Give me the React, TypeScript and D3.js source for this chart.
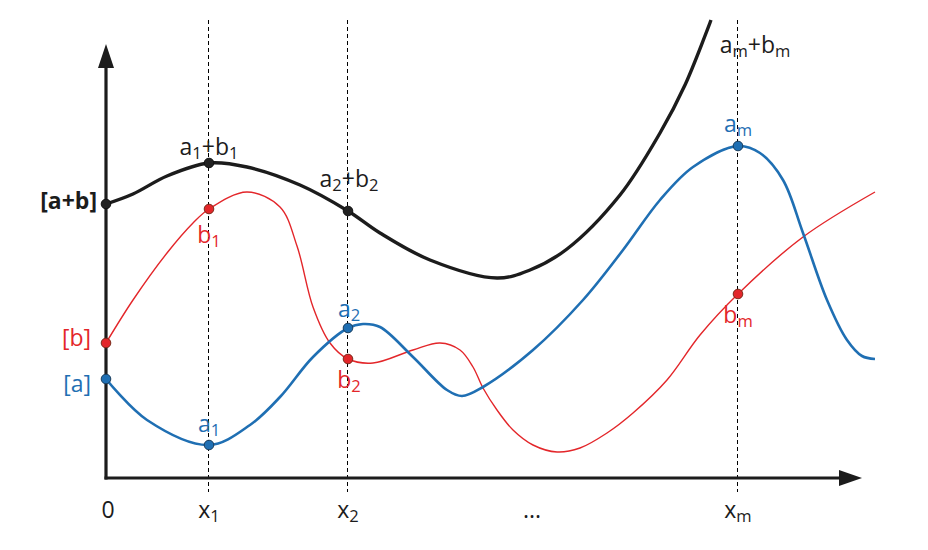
import React from "react";
import * as d3 from "d3";

// data units: x = horizontal distance from origin, y = height above x-axis
const sumSeries: [number, number][] = [
  [0, 274], [27, 284], [61, 302], [103, 315], [141, 311], [194, 293], [242, 267],
  [274, 245], [324, 218], [391, 200], [424, 208], [461, 229], [514, 283],
  [554, 345], [579, 393], [605, 458],
];
const bSeries: [number, number][] = [
  [0, 135], [27, 178], [61, 225], [87, 255], [103, 269], [141, 286], [174, 271],
  [191, 232], [207, 171], [224, 135], [242, 119], [267, 115], [307, 128],
  [334, 135], [354, 128], [367, 111], [377, 90], [391, 68], [407, 48], [427, 33],
  [451, 26], [474, 30], [501, 45], [527, 65], [561, 98], [594, 143], [632, 184],
  [697, 241], [769, 286],
];
const aSeries: [number, number][] = [
  [0, 99], [41, 58], [103, 33], [144, 53], [174, 81], [207, 121], [242, 150],
  [257, 154], [274, 151], [307, 121], [341, 88], [356, 82], [377, 91], [427, 128],
  [477, 178], [517, 228], [554, 278], [587, 311], [632, 332], [654, 325],
  [677, 298], [697, 245], [721, 178], [741, 138], [756, 122], [769, 119],
];

const gridX = [103, 242, 632];
const xTickLabels = ["0", "x_1", "x_2", "...", "x_m"];
const xTickPos = [2, 103, 242, 426, 632];

const sumMarks = [[0, 274], [103, 315], [242, 267]];
const bMarks = [[0, 135], [103, 269], [242, 119], [632, 184]];
const aMarks = [[0, 99], [103, 33], [242, 150], [632, 332]];

const BLUE = "#1f6fb3";
const RED = "#e3262a";
const BLACK = "#1c1c1c";

const W = 928, H = 550;
const x = d3.scaleLinear().domain([0, 770]).range([106, 876]);
const y = d3.scaleLinear().domain([0, 460]).range([478, 18]);

const line = d3
  .line<[number, number]>()
  .x((d) => x(d[0]))
  .y((d) => y(d[1]))
  .curve(d3.curveCatmullRom.alpha(0.5));

function Label({ text, px, py, color, anchor = "middle", size = 23, bold = false }: any) {
  const parts: { t: string; sub: boolean }[] = [];
  let i = 0;
  while (i < text.length) {
    if (text[i] === "_") {
      parts.push({ t: text[i + 1], sub: true });
      i += 2;
    } else {
      let j = i;
      while (j < text.length && text[j] !== "_") j++;
      parts.push({ t: text.slice(i, j), sub: false });
      i = j;
    }
  }
  let shifted = false;
  return (
    <text
      x={px}
      y={py}
      fill={color}
      textAnchor={anchor}
      fontFamily="'Open Sans', sans-serif"
      fontSize={size}
      fontWeight={bold ? 700 : 400}
    >
      {parts.map((p, k) => {
        let dy = 0;
        if (p.sub && !shifted) { dy = 4; shifted = true; }
        else if (!p.sub && shifted) { dy = -4; shifted = false; }
        return (
          <tspan key={k} dy={dy} fontSize={p.sub ? size * 0.72 : size}>
            {p.t}
          </tspan>
        );
      })}
    </text>
  );
}

export default function App() {
  const axisTop = 434;
  const axisRight = 756;
  return (
    <svg width={W} height={H} style={{ position: "absolute", left: 0, top: 0, background: "#fff" }}>
      {gridX.map((g, i) => (
        <line key={i} x1={x(g) - 0.5} x2={x(g) - 0.5} y1={y(458)} y2={y(-14)} stroke="#000" strokeWidth={1} strokeDasharray="4,3" />
      ))}
      <line x1={x(0)} x2={x(0)} y1={y(-1.5)} y2={y(axisTop - 18)} stroke={BLACK} strokeWidth={3.2} />
      <polygon
        points={`${x(0)},${y(axisTop)} ${x(-8)},${y(axisTop - 24)} ${x(8)},${y(axisTop - 24)}`}
        fill={BLACK}
      />
      <line x1={x(-1.5)} x2={x(axisRight - 18)} y1={y(0)} y2={y(0)} stroke={BLACK} strokeWidth={3.2} />
      <polygon
        points={`${x(axisRight)},${y(0)} ${x(axisRight - 23)},${y(8)} ${x(axisRight - 23)},${y(-8)}`}
        fill={BLACK}
      />
      <path d={line(bSeries) || ""} fill="none" stroke={RED} strokeWidth={1.4} />
      <path d={line(aSeries) || ""} fill="none" stroke={BLUE} strokeWidth={2.6} />
      <path d={line(sumSeries) || ""} fill="none" stroke={BLACK} strokeWidth={3.4} />
      {sumMarks.map((m, i) => (
        <circle key={"s" + i} cx={x(m[0])} cy={y(m[1])} r={4.8} fill="#222" stroke="#111" strokeWidth={1} />
      ))}
      {bMarks.map((m, i) => (
        <circle key={"b" + i} cx={x(m[0])} cy={y(m[1])} r={4.8} fill={RED} stroke="#7a2a1a" strokeWidth={1} />
      ))}
      {aMarks.map((m, i) => (
        <circle key={"a" + i} cx={x(m[0])} cy={y(m[1])} r={4.8} fill={BLUE} stroke="#1a3d5c" strokeWidth={1} />
      ))}
      <Label text="[a+b]" px={97} py={209} color={BLACK} anchor="end" bold />
      <Label text="[b]" px={91} py={346} color={RED} anchor="end" />
      <Label text="[a]" px={91} py={392} color={BLUE} anchor="end" />
      <Label text="a_1+b_1" px={209} py={155} color={BLACK} />
      <Label text="b_1" px={209} py={243} color={RED} />
      <Label text="a_1" px={209} py={432} color={BLUE} />
      <Label text="a_2+b_2" px={349} py={187} color={BLACK} />
      <Label text="a_2" px={349} py={317} color={BLUE} />
      <Label text="b_2" px={349} py={388} color={RED} />
      <Label text="a_m+b_m" px={755} py={53} color={BLACK} />
      <Label text="a_m" px={738} py={132} color={BLUE} />
      <Label text="b_m" px={738} py={323} color={RED} />
      {xTickLabels.map((t, i) => (
        <Label key={"x" + i} text={t} px={x(xTickPos[i])} py={518} color={BLACK} />
      ))}
    </svg>
  );
}
